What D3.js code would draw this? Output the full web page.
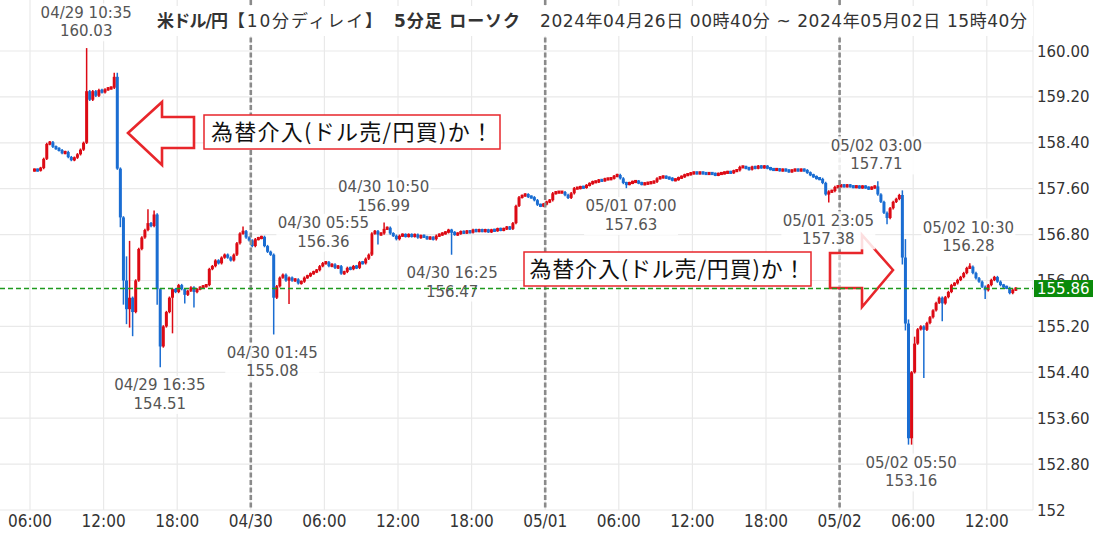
<!DOCTYPE html>
<html><head><meta charset="utf-8">
<script src="https://cdn.jsdelivr.net/npm/d3@7/dist/d3.min.js"></script>
<style>body{margin:0;background:#fff;} svg{display:block;}</style>
</head><body>
<svg id="c" width="1094" height="537"></svg>
<script>
// ---------------- DATA ----------------
const firstOpen = 157.92;
// 15-minute closes, each array starts at the given time
const start0429 = "2024-04-29 06:15";
const closes0429 = [
 157.93,157.92,157.96,
 158.12,158.38,158.41,158.33,
 158.30,158.27,158.22,158.24,
 158.15,158.10,158.14,158.20,
 158.28,158.40,159.30,159.15,
 159.30,159.22,159.32,159.28,
 159.33,159.35,159.36,159.55,
 157.95,157.10,156.00,155.50,
 155.70,155.45,156.00,156.55,
 156.75,156.88,157.00,156.95,
 157.15,155.85,154.85,155.20,
 155.45,155.70,155.85,155.80,
 155.92,155.85,155.75,155.82,
 155.88,155.80,155.85,155.88,
 155.90,155.92,156.20,156.25,
 156.35,156.30,156.40,156.45,
 156.40,156.35,156.45,156.65,
 156.82,156.86,156.75,156.70
];
const start0430 = "2024-04-30 00:00";
const closes0430 = [
 156.60,156.72,156.74,156.76,
 156.60,156.50,156.45,155.70,
 155.90,156.05,156.10,156.00,
 156.05,156.00,156.02,155.95,
 155.98,156.05,156.08,156.12,
 156.15,156.18,156.25,156.30,
 156.32,156.25,156.28,156.22,
 156.25,156.12,156.15,156.22,
 156.20,156.25,156.22,156.32,
 156.30,156.38,156.45,156.82,
 156.86,156.80,156.82,156.90,
 156.92,156.82,156.78,156.72,
 156.78,156.80,156.77,156.80,
 156.77,156.80,156.75,156.78,
 156.76,156.73,156.75,156.72,
 156.78,156.80,156.82,156.84,
 156.88,156.84,156.80,156.82,
 156.85,156.83,156.86,156.84,
 156.88,156.86,156.88,156.86,
 156.88,156.85,156.88,156.87,
 156.90,156.88,156.90,156.93,
 156.90,157.00,157.30,157.45,
 157.48,157.50,157.46,157.45,
 157.40,157.32,157.30,157.33
];
const start0501 = "2024-05-01 00:00";
const closes0501 = [
 157.37,157.40,157.52,
 157.54,157.54,157.54,157.49,
 157.44,157.52,157.61,157.61,
 157.63,157.62,157.66,157.69,
 157.72,157.72,157.75,157.74,
 157.77,157.77,157.78,157.82,
 157.84,157.78,157.70,157.68,
 157.70,157.72,157.73,157.70,
 157.68,157.69,157.70,157.71,
 157.72,157.78,157.80,157.81,
 157.79,157.78,157.75,157.76,
 157.79,157.81,157.84,157.85,
 157.87,157.88,157.87,157.88,
 157.87,157.86,157.87,157.86,
 157.84,157.86,157.87,157.88,
 157.89,157.88,157.91,157.92,
 157.98,157.98,157.96,157.94,
 157.98,157.96,157.99,157.97,
 157.99,157.96,157.94,157.93,
 157.94,157.92,157.93,157.92,
 157.90,157.92,157.93,157.92,
 157.93,157.92,157.88,157.84,
 157.81,157.78,157.77,157.70,
 157.50,157.55,157.56,157.63,
 157.64
];
const start0502 = "2024-05-02 00:00";
const closes0502 = [
 157.66,157.64,157.66,157.64,
 157.63,157.64,157.62,157.64,
 157.62,157.60,157.62,157.64,
 157.50,157.37,157.18,157.09,
 157.26,157.37,157.42,157.49,
 156.40,155.25,153.25,154.40,
 154.90,155.15,155.20,155.14,
 155.26,155.36,155.48,155.61,
 155.70,155.60,155.71,155.80,
 155.92,155.95,156.01,156.06,
 156.13,156.22,156.24,156.13,
 156.04,155.98,155.89,155.83,
 155.92,156.01,156.06,155.98,
 155.92,155.89,155.87,155.78,
 155.84,155.86
];
// wick extremes that reach beyond the candle bodies
const extraHighs = [
 ["04/29 10:30",160.03],["04/29 12:45",159.60],["04/29 13:00",159.60],
 ["04/29 13:45",156.40],["04/29 14:00",156.67],["04/29 15:30",157.22],
 ["04/29 16:00",157.20],["04/29 23:15",156.92],["04/30 10:45",156.99],
 ["05/02 03:00",157.71],["05/02 05:00",157.55],["05/02 05:15",156.70],
 ["05/02 05:30",155.30],["05/02 06:00",155.00],["05/02 10:30",156.28]
];
const extraLows = [
 ["04/29 13:15",156.95],["04/29 13:30",155.60],["04/29 13:45",155.26],
 ["04/29 14:00",155.20],["04/29 14:15",155.05],["04/29 16:15",155.60],
 ["04/29 16:30",154.51],["04/29 17:30",155.10],["04/29 18:30",155.62],
 ["04/29 19:15",155.55],["04/30 01:45",155.08],["04/30 03:00",155.61],
 ["04/30 10:15",156.65],["04/30 16:15",156.47],["05/01 06:30",157.63],
 ["05/01 23:00",157.38],["05/02 03:45",157.00],["05/02 05:00",156.30],
 ["05/02 05:15",155.15],["05/02 05:30",153.16],["05/02 05:45",153.16],
 ["05/02 06:00",154.75],["05/02 06:45",154.32],["05/02 08:15",155.31],
 ["05/02 11:45",155.70]
];
const lastPrice = 155.86;
// point annotations
const annTimes  = ["2024-04-29 10:35","2024-04-29 16:35","2024-04-30 01:45","2024-04-30 05:55","2024-04-30 10:50","2024-04-30 16:25","2024-05-01 07:00","2024-05-01 23:05","2024-05-02 03:00","2024-05-02 05:50","2024-05-02 10:30"];
const annValues = [160.03,154.51,155.08,156.36,156.99,156.47,157.63,157.38,157.71,153.16,156.28];
const annSides  = ["above","below","below","above","above","below","below","below","above","below","above"];
// axes
const xTickTimes  = ["2024-04-29 06:00","2024-04-29 12:00","2024-04-29 18:00","2024-04-30 00:00","2024-04-30 06:00","2024-04-30 12:00","2024-04-30 18:00","2024-05-01 00:00","2024-05-01 06:00","2024-05-01 12:00","2024-05-01 18:00","2024-05-02 00:00","2024-05-02 06:00","2024-05-02 12:00"];
const xTickLabels = ["06:00","12:00","18:00","04/30","06:00","12:00","18:00","05/01","06:00","12:00","18:00","05/02","06:00","12:00"];
const dayLines = ["2024-04-30 00:00","2024-05-01 00:00","2024-05-02 00:00"];
const yTickValues = [152,152.8,153.6,154.4,155.2,156.0,156.8,157.6,158.4,159.2,160.0];
const yTickLabels = ["152","152.80","153.60","154.40","155.20","156.00","156.80","157.60","158.40","159.20","160.00"];
const calloutText = "為替介入(ドル売/円買)か！";

// ---------------- CHART ----------------
const parseT = d3.timeParse("%Y-%m-%d %H:%M");
const keyFmt = d3.timeFormat("%m/%d %H:%M");
const svg = d3.select("#c");
const PR = 1033, PB = 510;
const x = d3.scaleTime().domain([parseT("2024-04-29 06:00"), parseT("2024-05-02 00:00")]).range([30, 839.6]);
const y = d3.scaleLinear().domain([152,160]).range([510,51]);
const RED = "#dc0a14", BLUE = "#1a6dd2";
const LAT = "'DejaVu Sans', 'Noto Sans CJK JP', sans-serif";

// build candles
const hiMap = new Map(extraHighs), loMap = new Map(extraLows);
let candles = [], prev = firstOpen;
[[start0429,closes0429],[start0430,closes0430],[start0501,closes0501],[start0502,closes0502]].forEach(([s,arr])=>{
  const t0 = parseT(s);
  arr.forEach((c,i)=>{
    const t = d3.timeMinute.offset(t0, i*15);
    const k = keyFmt(t);
    const h = Math.max(prev, c, hiMap.has(k) ? hiMap.get(k) : -Infinity);
    const l = Math.min(prev, c, loMap.has(k) ? loMap.get(k) : Infinity);
    candles.push({t, o:prev, h, l, c});
    prev = c;
  });
});

// background
svg.append("rect").attr("width",1094).attr("height",537).attr("fill","#fff");
const g = svg.append("g");
// grid
g.selectAll(".vg").data(xTickTimes).join("line")
  .attr("x1",d=>x(parseT(d))).attr("x2",d=>x(parseT(d)))
  .attr("y1",0).attr("y2",PB).attr("stroke","#e9e9e9").attr("stroke-width",1.2);
g.selectAll(".hg").data(yTickValues).join("line")
  .attr("x1",0).attr("x2",PR).attr("y1",d=>y(d)).attr("y2",d=>y(d))
  .attr("stroke","#e9e9e9").attr("stroke-width",1.2);
g.append("line").attr("x1",PR).attr("x2",PR).attr("y1",0).attr("y2",PB).attr("stroke","#e9e9e9");

// candles
const cw = 3.0, minH = 3.2;
const cx = d => x(d3.timeMinute.offset(d.t, 7.5));
const cg = g.append("g");
cg.selectAll("line").data(candles).join("line")
  .attr("x1",cx).attr("x2",cx).attr("y1",d=>y(d.h)-1.2).attr("y2",d=>y(d.l)+1.2)
  .attr("stroke",d=>d.c>=d.o?RED:BLUE).attr("stroke-width",1.5);
cg.selectAll("rect").data(candles).join("rect")
  .attr("x",d=>cx(d)-cw/2).attr("width",cw)
  .attr("y",d=>{const a=y(Math.max(d.o,d.c)), b=y(Math.min(d.o,d.c)); return (b-a)<minH ? (a+b)/2-minH/2 : a;})
  .attr("height",d=>Math.max(minH, Math.abs(y(d.o)-y(d.c))))
  .attr("fill",d=>d.c>=d.o?RED:BLUE);

// day separators
g.selectAll(".dl").data(dayLines).join("line")
  .attr("x1",d=>x(parseT(d))).attr("x2",d=>x(parseT(d)))
  .attr("y1",0).attr("y2",PB).attr("stroke","#8a8a8a").attr("stroke-width",2.6)
  .attr("stroke-dasharray","5,2.5");

// arrows + callouts
const arrows = [
  [[128,133],[162,102],[162,117],[194,117],[194,148],[162,148],[162,165]],
  [[893,270],[862,235],[862,253],[830,253],[830,288],[862,288],[862,307]]
];
g.selectAll(".arr").data(arrows).join("polygon")
  .attr("points",d=>d.map(p=>p.join(",")).join(" "))
  .attr("fill","rgba(255,255,255,0.55)").attr("stroke","#e8262b").attr("stroke-width",2.6)
  .attr("stroke-linejoin","miter");

const boxes = [[204,115,296,34,282],[524,252,287,34,276]];
boxes.forEach(([bx,by,bw,bh,tl])=>{
  g.append("rect").attr("x",bx).attr("y",by).attr("width",bw).attr("height",bh)
    .attr("fill","#fff").attr("stroke","#e8262b").attr("stroke-width",1.5);
  g.append("text").attr("x",bx+(bw-tl)/2).attr("y",by+bh/2+8)
    .attr("textLength",tl).attr("lengthAdjust","spacing")
    .attr("font-family","'Noto Sans CJK JP', sans-serif").attr("font-size",22).attr("fill","#111")
    .text(calloutText);
});

// annotations
const ag = g.append("g").attr("font-family",LAT).attr("font-size",15).attr("fill","#555");
annTimes.forEach((ts,i)=>{
  const t = parseT(ts), v = annValues[i];
  const px = x(t), py = y(v);
  const l1 = d3.timeFormat("%m/%d %H:%M")(t), l2 = v.toFixed(2);
  const c1 = annSides[i]==="above" ? py-37 : py+19;
  const c2 = c1+18.5;
  ag.append("rect").attr("x",px-47).attr("y",c1-9).attr("width",94).attr("height",38)
    .attr("fill","#fff").attr("opacity",0.85);
  ag.append("text").attr("x",px).attr("y",c1+5.5).attr("text-anchor","middle").text(l1);
  ag.append("text").attr("x",px).attr("y",c2+5.5).attr("text-anchor","middle").text(l2);
});

// last price line (on top)
g.append("line").attr("x1",0).attr("x2",PR).attr("y1",y(lastPrice)).attr("y2",y(lastPrice))
  .attr("stroke","#1f9a1f").attr("stroke-width",1.5).attr("stroke-dasharray","5,3");

// title
svg.append("rect").attr("x",145).attr("y",6).attr("width",888).attr("height",30).attr("fill","#fff");
const titleParts = [["米ドル/円",157,"bold",71],["【10分ディレイ】",228,"normal",154],["5分足 ローソク",394,"bold",126],["2024年04月26日 00時40分 ~ 2024年05月02日 15時40分",540,"normal",487]];
titleParts.forEach(([s,px,w,tl])=>{
  svg.append("text").attr("x",px).attr("y",27).attr("font-size",17).attr("fill","#333")
    .attr("font-weight",w).attr("font-family",LAT)
    .attr("textLength",tl).attr("lengthAdjust","spacing").text(s);
});

// y axis labels
svg.append("g").selectAll("text").data(yTickValues).join("text")
  .attr("x",1037).attr("y",d=>y(d)+5.5).attr("font-family",LAT).attr("font-size",15)
  .attr("fill","#333").text((d,i)=>yTickLabels[i]);
// last price tag
svg.append("rect").attr("x",1034).attr("y",y(lastPrice)-8.5).attr("width",59).attr("height",17).attr("fill","#0a8a0a");
svg.append("text").attr("x",1037).attr("y",y(lastPrice)+5.5).attr("font-family",LAT).attr("font-size",15)
  .attr("fill","#fff").text(lastPrice.toFixed(2));

// x axis labels
svg.append("g").selectAll("text").data(xTickTimes).join("text")
  .attr("x",d=>x(parseT(d))).attr("y",527).attr("text-anchor","middle")
  .attr("font-family","'Liberation Sans Narrow','DejaVu Sans Condensed',sans-serif")
  .attr("font-size",17).attr("fill","#333").text((d,i)=>xTickLabels[i]);
</script>
</body></html>
